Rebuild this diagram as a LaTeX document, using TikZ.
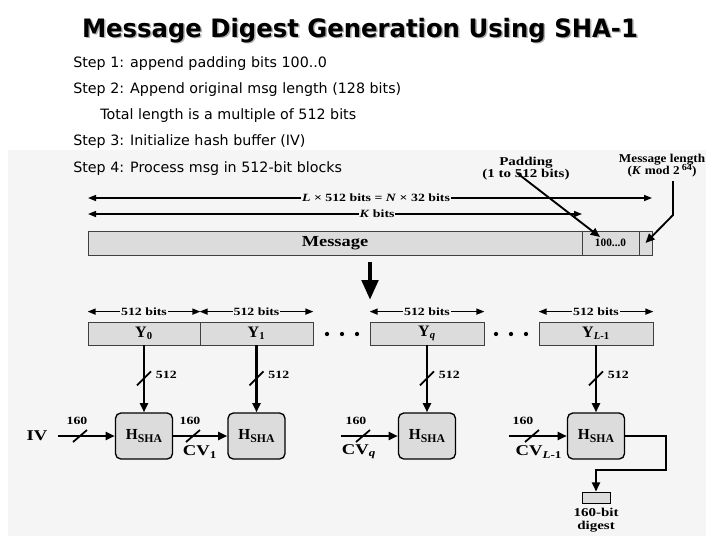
\documentclass[tikz,border=0pt]{standalone}
\usepackage{fontspec}
\setmainfont{DejaVu Sans}
\newfontfamily\dgfont{Liberation Serif}
\usetikzlibrary{arrows.meta,calc}
\definecolor{bggrey}{HTML}{F5F5F5}
\definecolor{boxgrey}{HTML}{DCDCDC}
\newcommand{\sx}[1]{\scalebox{1.25}[1]{#1}}
\newcommand{\hsha}{H\raisebox{-2.6pt}{\fontsize{8.8}{9}\selectfont SHA}}
\begin{document}
\begin{tikzpicture}[x=0.75pt,y=-0.75pt,
  flow/.style={line width=1.9pt},
  tip/.style={-{Triangle[length=7pt,width=6pt]}},
  dim/.style={line width=1.1pt,{Triangle[length=6pt,width=4.5pt]}-{Triangle[length=6pt,width=4.5pt]}},
  slash/.style={line width=1.3pt},
  bar/.style={draw=black!75,line width=0.6pt,fill=boxgrey,minimum height=18pt,inner sep=0pt},
  blk/.style={draw=black!75,line width=0.6pt,fill=boxgrey,minimum height=17.25pt,inner sep=0pt,font=\dgfont\bfseries\fontsize{12}{13}\selectfont},
  hbox/.style={draw,line width=1pt,fill=boxgrey,rounded corners=4pt,minimum width=42.75pt,minimum height=34.5pt,inner sep=0pt,font=\dgfont\bfseries\fontsize{11.5}{12}\selectfont},
  lab/.style={font=\dgfont\bfseries\fontsize{8.3}{9}\selectfont,inner sep=0.5pt},
  biglab/.style={font=\dgfont\bfseries\fontsize{9}{10}\selectfont,inner sep=0.5pt},
  big/.style={font=\dgfont\bfseries\fontsize{11.2}{12}\selectfont,inner sep=0pt},
  steptext/.style={anchor=base west,inner sep=0pt,font=\fontsize{10.7}{12}\selectfont},
  titletext/.style={inner sep=0pt,anchor=base,font=\fontsize{19}{22}\selectfont\bfseries}]
\useasboundingbox (0,0) rectangle (720,540);
\fill[bggrey] (8,150) rectangle (706,536);
% title
\node[titletext,text=black!30] (tshadow) at (361.5,38.5) {\scalebox{0.96}[1]{Message Digest Generation Using SHA-1}};
\node[titletext] (title) at (360,37) {\scalebox{0.96}[1]{Message Digest Generation Using SHA-1}};
% steps
\node[steptext] (s1) at (73,67) {Step 1: append padding bits 100..0};
\node[steptext] (s2) at (73,93) {Step 2: Append original msg length (128 bits)};
\node[steptext] (s3) at (100,119) {Total length is a multiple of 512 bits};
\node[steptext] (s4) at (73,145) {Step 3: Initialize hash buffer (IV)};
\node[steptext] (s5) at (73,172) {Step 4: Process msg in 512-bit blocks};
% dimension arrows
\coordinate (d1l) at (88,198); \coordinate (d1r) at (652,198);
\draw[dim] (d1l) -- (d1r);
\node[lab,fill=bggrey] (d1lab) at (376,198) {\sx{\textit{L} × 512 bits = \textit{N} × 32 bits}};
\coordinate (d2l) at (88,214); \coordinate (d2r) at (582,214);
\draw[dim] (d2l) -- (d2r);
\node[lab,fill=bggrey] (d2lab) at (377,214) {\sx{\textit{K} bits}};
% message bar
\node[bar,minimum width=494*0.75pt,font=\dgfont\bfseries\fontsize{11.5}{12}\selectfont] (msg) at (335,243) {\scalebox{1.2}[1]{Message}};
\node[bar,minimum width=57*0.75pt,font=\dgfont\bfseries\fontsize{8.5}{9}\selectfont] (pad) at (610.5,243) {100...0};
\node[bar,minimum width=13*0.75pt] (len) at (645.5,243) {};
% padding / length labels
\node[biglab,align=center] (padl) at (526,169) {\sx{Padding}\\[-1pt]\sx{(1 to 512 bits)}};
\coordinate (pa) at (517,173); \coordinate (pe) at (600,237);
\draw[line width=1.4pt,tip] (pa) -- (pe);
\node[biglab,align=center] (mll) at (662,166) {\scalebox{1.1}[1]{Message length}\\[-1pt]\scalebox{1.1}[1]{(\textit{K} mod 2\,\raisebox{3pt}{\fontsize{7}{8}\selectfont 64})}};
\coordinate (ma) at (673,181); \coordinate (mb) at (673,215);
\draw[line width=1.4pt,tip] (ma) -- (mb) -- (len.center);
% big arrow
\coordinate (ba) at (370,262); \coordinate (bb) at (370,300);
\draw[line width=3.6pt,-{Triangle[length=15pt,width=12pt]}] (ba) -- (bb);
% blocks
\node[blk,minimum width=112*0.75pt] (Y0) at (144,333.5) {Y\textsubscript{0}};
\node[blk,minimum width=113*0.75pt] (Y1) at (256.5,333.5) {Y\textsubscript{1}};
\node[blk,minimum width=114*0.75pt] (Yq) at (427,333.5) {Y\textsubscript{\itshape q}};
\node[blk,minimum width=114*0.75pt] (YL) at (596,333.5) {Y\textsubscript{\itshape L\upshape -1}};
\foreach \x in {327,342,357,496,511,526} \fill (\x,334) circle[radius=1.6pt];
\foreach \n in {0,1,q,L}{
  \draw[dim] ($(Y\n.north west)+(0,-10)$) -- ($(Y\n.north east)+(0,-10)$)
    node[midway,lab,fill=bggrey] (b\n) {\sx{512 bits}};
}
% compression boxes
\node[hbox] (H0) at (144,436) {\hsha};
\node[hbox] (H1) at (256.5,436) {\hsha};
\node[hbox] (Hq) at (427,436) {\hsha};
\node[hbox] (HL) at (596,436) {\hsha};
\foreach \n in {0,1,q,L}{
  \draw[flow,tip] (Y\n.south) -- (H\n.north);
  \coordinate (v\n) at ($(Y\n.south)+(0,33)$);
  \draw[slash] ($(v\n)+(-7,7)$) -- ($(v\n)+(7,-7)$);
  \node[lab,anchor=west] (w\n) at ($(v\n)+(11,-4)$) {\sx{512}};
}
% chaining inputs
\node[big] (IV) at (37,436) {\sx{IV}};
\draw[flow,tip,shorten <=8pt] (IV.east) -- (H0.west);
\draw[flow,tip] (H0.east) -- (H1.west);
\coordinate (cq) at (341,436);
\draw[flow,tip] (cq) -- (Hq.west);
\coordinate (cl) at (509,436);
\draw[flow,tip] (cl) -- (HL.west);
\foreach \x/\lx [count=\i] in {80/77,193/190,363/356,532/523}{
  \draw[slash] (\x-7,442) -- (\x+7,430);
  \node[lab] (t\i) at (\lx,421) {\sx{160}};
}
\node[big] (cv1) at (200,452) {\sx{CV\textsubscript{1}}};
\node[big] (cvq) at (359,452) {\sx{CV\textsubscript{\itshape q}}};
\node[big] (cvl) at (539,452) {\sx{CV\textsubscript{\itshape L\upshape -1}}};
% output
\coordinate (o1) at (666,436); \coordinate (o2) at (666,470); \coordinate (o3) at (596,470);
\node[draw,line width=0.6pt,fill=boxgrey,minimum width=21pt,minimum height=8.25pt,inner sep=0pt] (dig) at (596,497.5) {};
\draw[flow,tip] (HL.east) -- (o1) -- (o2) -- (o3) -- (dig.north);
\node[biglab,align=center] (digl) at (596,520) {\sx{160-bit}\\[-0.5pt]\sx{digest}};
\end{tikzpicture}
\end{document}
